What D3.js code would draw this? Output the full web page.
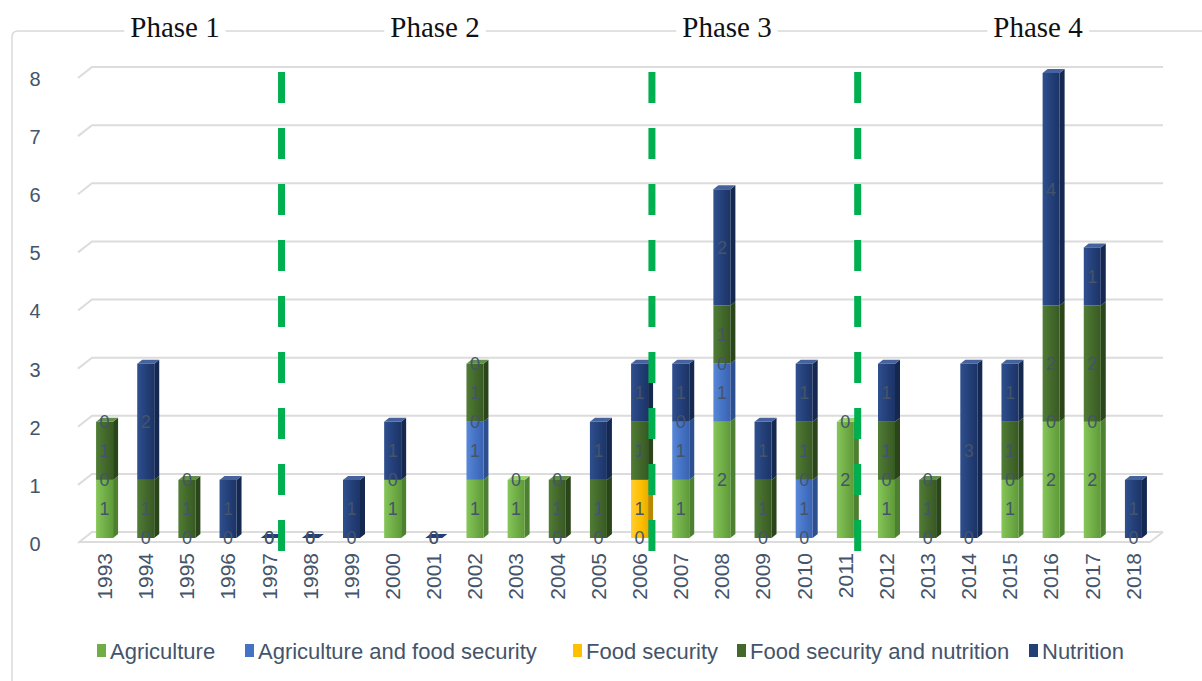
<!DOCTYPE html>
<html>
<head>
<meta charset="utf-8">
<script src="https://cdn.jsdelivr.net/npm/d3@7"></script>
<style>
  body { margin: 0; background: #fff; }
  svg { display: block; }
  text { font-family: "Liberation Sans", Arial, sans-serif; }
</style>
</head>
<body>
<svg width="1202" height="681"></svg>
<script>
// data (null = no label shown)
var years = ["1993","1994","1995","1996","1997","1998","1999","2000","2001","2002","2003","2004","2005",
             "2006","2007","2008","2009","2010","2011","2012","2013","2014","2015","2016","2017","2018"];
var agriculture       = [1,0,0,0,0,0,0,1,0,1,1,0,0,0,1,2,0,0,2,1,0,0,1,2,2,0];
var agriFoodSecurity  = [0,null,null,null,null,null,null,0,null,1,null,null,null,null,1,1,null,1,null,0,null,null,0,0,0,null];
var foodSecurity      = [null,null,null,null,null,null,null,null,null,0,null,null,null,1,0,0,null,0,null,null,null,null,null,null,null,null];
var foodSecNutrition  = [1,1,1,null,null,null,null,null,null,1,null,1,1,1,null,1,1,1,null,1,1,null,1,2,2,null];
var nutrition         = [0,2,0,1,0,0,1,1,0,0,0,0,1,1,1,2,1,1,0,1,0,3,1,4,1,1];

var seriesNames = ["Agriculture", "Agriculture and food security", "Food security",
                   "Food security and nutrition", "Nutrition"];
var seriesValues = [agriculture, agriFoodSecurity, foodSecurity, foodSecNutrition, nutrition];
var yTicks = [0,1,2,3,4,5,6,7,8];
var phaseTitles = ["Phase 1", "Phase 2", "Phase 3", "Phase 4"];
var phaseBreaks = ["1997", "2006", "2011"];

var palette = {
  "Agriculture":                   {light: "#86c658", base: "#70ad47", dark: "#5e9a38", side: "#4d8030", top: "#9ad270"},
  "Agriculture and food security": {light: "#5a88d8", base: "#4472c4", dark: "#3a63b0", side: "#2c4f8f", top: "#7fa2e2"},
  "Food security":                 {light: "#ffcd33", base: "#ffc000", dark: "#e8ad00", side: "#b88900", top: "#ffd966"},
  "Food security and nutrition":   {light: "#507d35", base: "#43682b", dark: "#375a22", side: "#2a4519", top: "#62904a"},
  "Nutrition":                     {light: "#2f4f8e", base: "#233f78", dark: "#1c3466", side: "#142850", top: "#46639e"}
};

var rows = years.map(function(yr, i) {
  var r = {year: yr};
  seriesNames.forEach(function(k, j) { r[k] = seriesValues[j][i]; });
  return r;
});

var svg = d3.select("svg");

var x = d3.scaleBand().domain(years).range([84, 1154]);
var y = d3.scaleLinear().domain([0, 8]).range([538, 73]);
var barW = 17, dx = 5, dy = 4;
var textColor = "#44546a";

// gradients for the front faces
var defs = svg.append("defs");
seriesNames.forEach(function(k, i) {
  var g = defs.append("linearGradient").attr("id", "grad" + i)
      .attr("x1", 0).attr("x2", 1).attr("y1", 0).attr("y2", 0);
  g.append("stop").attr("offset", "0%").attr("stop-color", palette[k].light);
  g.append("stop").attr("offset", "55%").attr("stop-color", palette[k].base);
  g.append("stop").attr("offset", "100%").attr("stop-color", palette[k].dark);
});

// outer chart border
svg.append("path")
    .attr("d", "M12,681 L12,37 Q12,31 18,31 L1202,31")
    .attr("fill", "none").attr("stroke", "#d9d9d9").attr("stroke-width", 1.5);

// back wall gridlines with perspective edge
svg.append("g").selectAll("path")
  .data(yTicks)
  .enter().append("path")
    .attr("d", function(v) {
      return "M78," + (y(v) + 5) + " L92," + (y(v) - 6) + " L1163," + (y(v) - 6);
    })
    .attr("fill", "none").attr("stroke", "#dcdcdc").attr("stroke-width", 2);

// floor front edge
svg.append("path")
    .attr("d", "M80," + (y(0) + 4) + " L1150," + (y(0) + 4) + " L1163," + (y(0) - 6))
    .attr("fill", "none").attr("stroke", "#dcdcdc").attr("stroke-width", 2);

// y axis labels
var yAxis = svg.append("g")
    .attr("transform", "translate(46,6)")
    .call(d3.axisLeft(y).tickValues(yTicks).tickSize(0).tickPadding(0));
yAxis.select(".domain").remove();
yAxis.selectAll("text")
    .attr("x", -11).attr("text-anchor", "middle")
    .style("font-size", "20px").style("font-family", '"Liberation Sans", Arial, sans-serif')
    .attr("fill", textColor);

// year labels
var xAxis = svg.append("g")
    .attr("transform", "translate(0,553)")
    .call(d3.axisBottom(x).tickSize(0));
xAxis.select(".domain").remove();
xAxis.selectAll("text")
    .attr("transform", "rotate(-90)")
    .attr("x", 0).attr("y", 0).attr("dy", "0.35em")
    .attr("text-anchor", "end")
    .style("font-size", "21px").style("font-family", '"Liberation Sans", Arial, sans-serif')
    .attr("fill", textColor);

// stacked 3D bars
var stack = d3.stack().keys(seriesNames).value(function(d, k) { return d[k] || 0; });
var layers = stack(rows);

var bars = svg.append("g");
rows.forEach(function(r, i) {
  var x0 = x(r.year) + (x.bandwidth() - barW) / 2;
  var topKey = null, total = 0;
  layers.forEach(function(layer) {
    var seg = layer[i];
    if (seg[1] > seg[0]) { topKey = layer.key; total = seg[1]; }
  });
  layers.forEach(function(layer, li) {
    var seg = layer[i];
    if (seg[1] <= seg[0]) return;
    var c = palette[layer.key];
    var yb = y(seg[0]), yt = y(seg[1]);
    bars.append("path")
        .attr("d", "M" + (x0 + barW) + "," + yb + " L" + (x0 + barW) + "," + yt +
                   " L" + (x0 + barW + dx) + "," + (yt - dy) + " L" + (x0 + barW + dx) + "," + (yb - dy) + "Z")
        .attr("fill", c.side);
    bars.append("rect")
        .attr("x", x0).attr("y", yt).attr("width", barW).attr("height", yb - yt)
        .attr("fill", "url(#grad" + li + ")");
  });
  var tk = topKey || "Nutrition";
  var yt = y(total);
  bars.append("path")
      .attr("d", "M" + x0 + "," + yt + " L" + (x0 + barW) + "," + yt +
                 " L" + (x0 + barW + dx) + "," + (yt - dy) + " L" + (x0 + dx) + "," + (yt - dy) + "Z")
      .attr("fill", topKey ? palette[tk].top : palette[tk].base);
});

// data labels
var labels = svg.append("g");
layers.forEach(function(layer) {
  layer.forEach(function(seg, i) {
    var v = rows[i][layer.key];
    if (v === null || v === undefined) return;
    labels.append("text")
        .attr("x", x(rows[i].year) + x.bandwidth() / 2)
        .attr("y", y((seg[0] + seg[1]) / 2))
        .attr("dy", "0.36em")
        .attr("text-anchor", "middle")
        .style("font-size", "18px")
        .attr("fill", textColor)
        .text(v);
  });
});

// phase separators
svg.append("g").selectAll("line")
  .data(phaseBreaks)
  .enter().append("line")
    .attr("x1", function(d) { return x(d) + x.bandwidth() * 0.8; })
    .attr("x2", function(d) { return x(d) + x.bandwidth() * 0.8; })
    .attr("y1", 72).attr("y2", 552)
    .attr("stroke", "#00b050").attr("stroke-width", 7)
    .attr("stroke-dasharray", "31 25");

// phase titles over the border
var phaseX = [175, 435, 727, 1038];
var titles = svg.append("g");
phaseTitles.forEach(function(t, i) {
  var tx = titles.append("text")
      .attr("x", phaseX[i]).attr("y", 37)
      .attr("text-anchor", "middle")
      .style("font-family", '"Liberation Serif", "Times New Roman", serif')
      .style("font-size", "29px")
      .attr("fill", "#111")
      .text(t);
  var bb = tx.node().getBBox();
  titles.insert("rect", "text")
      .attr("x", bb.x - 6).attr("y", 24).attr("width", bb.width + 12).attr("height", 14)
      .attr("fill", "#fff");
});

// legend
var legendX = [97, 245, 573, 737, 1029];
var legend = svg.append("g");
seriesNames.forEach(function(k, i) {
  legend.append("rect")
      .attr("x", legendX[i]).attr("y", 644).attr("width", 9).attr("height", 13)
      .attr("fill", palette[k].base);
  legend.append("text")
      .attr("x", legendX[i] + 13).attr("y", 651).attr("dy", "0.36em")
      .style("font-size", "22px")
      .attr("fill", textColor)
      .text(k);
});
</script>
</body>
</html>
